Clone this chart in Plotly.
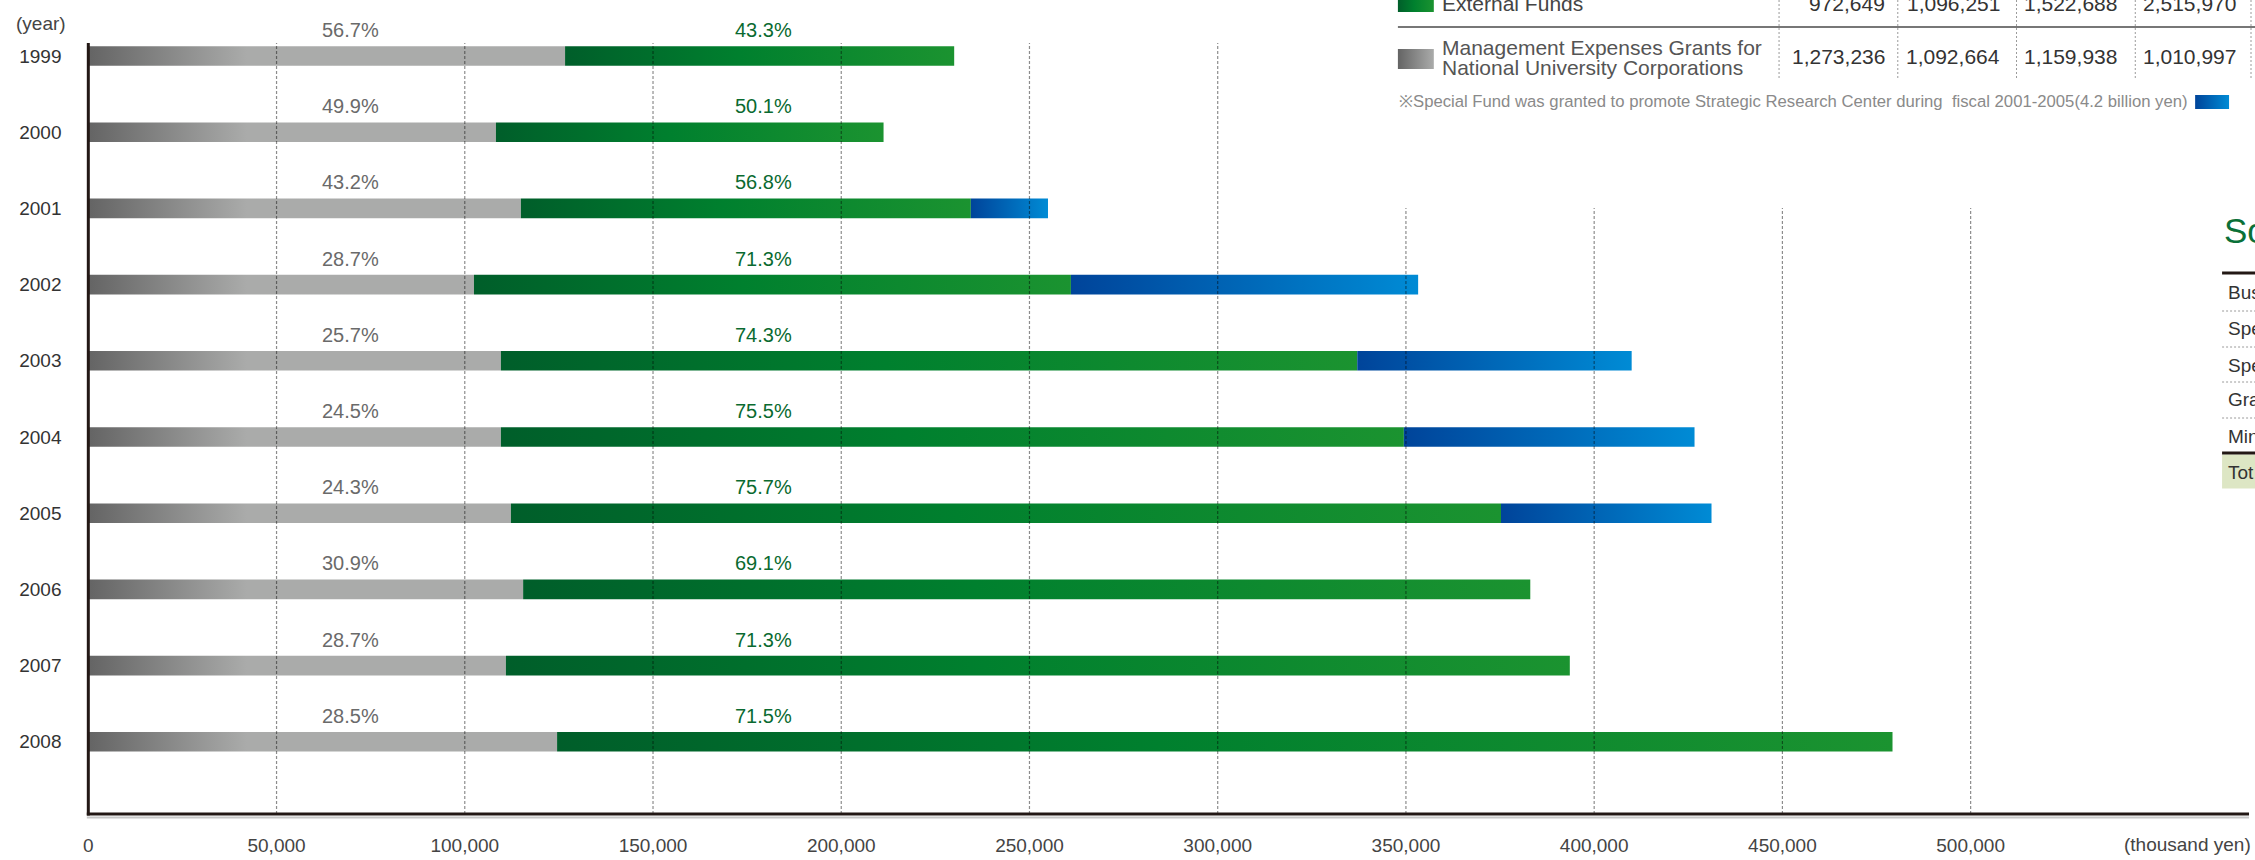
import plotly.graph_objects as go

W, H = 2255, 860
FONT = "Liberation Sans, Arial, sans-serif"

# ---------------- data (thousand yen) ----------------
years = ["1999", "2000", "2001", "2002", "2003", "2004", "2005", "2006", "2007", "2008"]
mgmt_grants = [126640, 108270, 114900, 102440, 109590, 109590, 112250, 115500, 110920, 124520]
external_funds = [103360, 102970, 119530, 158570, 227480, 239860, 263000, 267530, 282610, 354730]
special_fund = [0, 0, 20490, 92230, 72890, 77210, 55920, 0, 0, 0]
grant_pct = ["56.7%", "49.9%", "43.2%", "28.7%", "25.7%", "24.5%", "24.3%", "30.9%", "28.7%", "28.5%"]
external_pct = ["43.3%", "50.1%", "56.8%", "71.3%", "74.3%", "75.5%", "75.7%", "69.1%", "71.3%", "71.5%"]

x_ticks = [0, 50000, 100000, 150000, 200000, 250000, 300000, 350000, 400000, 450000, 500000]
x_tick_text = ["0", "50,000", "100,000", "150,000", "200,000", "250,000", "300,000",
               "350,000", "400,000", "450,000", "500,000"]

table_row1_label = "External Funds"
table_row1_values = ["972,649", "1,096,251", "1,522,688", "2,515,970"]
table_row2_label = ["Management Expenses Grants for", "National University Corporations"]
table_row2_values = ["1,273,236", "1,092,664", "1,159,938", "1,010,997"]
note_text = "※Special Fund was granted to promote Strategic Research Center during  fiscal 2001-2005(4.2 billion yen)"
side_title = "So"
side_rows = ["Bus", "Spe", "Spe", "Gra", "Min", "Tot"]

# ---------------- geometry helpers ----------------
X0_PX, X_RIGHT_PX, PX_PER_50K = 83.5, 2249.0, 188.65
AX_BOTTOM_PX, AX_TOP_PX = 814.0, 43.0
ROW0_PX, ROW_STEP_PX = 56.0, 76.2
BAR_HALF = 9.8 / ROW_STEP_PX


def pxx(x):
    return x / W


def pxy(y):
    return 1 - y / H


x_max = (X_RIGHT_PX - X0_PX) / PX_PER_50K * 50000
y_top_val = (AX_TOP_PX - ROW0_PX) / ROW_STEP_PX
y_bot_val = (AX_BOTTOM_PX - ROW0_PX) / ROW_STEP_PX

GREY_SCALE = [[0, "#646464"], [1, "#aaabaa"]]
GREEN_SCALE = [[0, "#005e2a"], [0.45, "#00802e"], [1, "#1b9330"]]
BLUE_SCALE = [[0, "#00449a"], [1, "#008bd5"]]

fig = go.Figure()


def add_rect(x0, x1, yc, scale, start=None, stop=None, xaxis="x", yaxis="y", half=BAR_HALF):
    grad = dict(type="horizontal", colorscale=scale)
    if start is not None:
        grad["start"] = start
        grad["stop"] = stop
    fig.add_trace(go.Scatter(
        x=[x0, x1, x1, x0, x0],
        y=[yc - half, yc - half, yc + half, yc + half, yc - half],
        mode="lines", line=dict(width=0), fill="toself", fillgradient=grad,
        hoverinfo="skip", showlegend=False, xaxis=xaxis, yaxis=yaxis))


for i, yr in enumerate(years):
    g = mgmt_grants[i]
    e = external_funds[i]
    s = special_fund[i]
    add_rect(0, g, i, GREY_SCALE, start=0, stop=42000)
    add_rect(g, g + e, i, GREEN_SCALE)
    if s > 0:
        add_rect(g + e, g + e + s, i, BLUE_SCALE)

# legend swatches in pixel-space overlay axes
add_rect(1396, 1432, 0.5, GREEN_SCALE, xaxis="x2", yaxis="y2", half=11.5)
add_rect(1396, 1432, 59, GREY_SCALE, xaxis="x2", yaxis="y2", half=10)
add_rect(2195, 2229, 102, BLUE_SCALE, xaxis="x2", yaxis="y2", half=7)

shapes = []
# grid lines
for v in x_ticks[1:]:
    top = AX_TOP_PX if v <= 300000 else 208
    shapes.append(dict(type="line", xref="x", yref="paper", x0=v, x1=v,
                       y0=pxy(AX_BOTTOM_PX), y1=pxy(top), layer="above",
                       line=dict(color="rgba(0,0,0,0.45)", width=1.2, dash="3px,2px")))
# axis lines
shapes.append(dict(type="line", xref="paper", yref="paper", x0=pxx(X0_PX - 1.5), x1=pxx(X_RIGHT_PX),
                   y0=pxy(817.5), y1=pxy(817.5), line=dict(color="#c8c8c8", width=2)))
shapes.append(dict(type="line", xref="paper", yref="paper", x0=pxx(X0_PX - 1.5), x1=pxx(X_RIGHT_PX),
                   y0=pxy(AX_BOTTOM_PX), y1=pxy(AX_BOTTOM_PX), line=dict(color="#231815", width=3)))
shapes.append(dict(type="line", xref="paper", yref="paper", x0=pxx(X0_PX), x1=pxx(X0_PX),
                   y0=pxy(AX_BOTTOM_PX + 1.5), y1=pxy(AX_TOP_PX), line=dict(color="#231815", width=3)))

# top-right table
shapes.append(dict(type="line", xref="paper", yref="paper", x0=pxx(1396), x1=pxx(2255),
                   y0=pxy(27), y1=pxy(27), line=dict(color="#777777", width=2)))
col_sep = [1778, 1897, 2016, 2135, 2251]
for cx in col_sep:
    shapes.append(dict(type="line", xref="paper", yref="paper", x0=pxx(cx), x1=pxx(cx),
                       y0=pxy(0), y1=pxy(78), line=dict(color="#9a9a9a", width=1, dash="2px,2px")))
col_right = [1886, 2001, 2119, 2238]

# right side table (cut off by the right edge)
SIDE_X = 2222
shapes.append(dict(type="rect", xref="paper", yref="paper", x0=pxx(SIDE_X), x1=pxx(2256),
                   y0=pxy(454.5), y1=pxy(488.5), fillcolor="#dde6c4", line=dict(width=0)))
for yy in [273, 453]:
    shapes.append(dict(type="line", xref="paper", yref="paper", x0=pxx(SIDE_X), x1=pxx(2256),
                       y0=pxy(yy), y1=pxy(yy), line=dict(color="#231815", width=3)))
for yy in [311, 347, 382, 418]:
    shapes.append(dict(type="line", xref="paper", yref="paper", x0=pxx(SIDE_X), x1=pxx(2256),
                       y0=pxy(yy), y1=pxy(yy), line=dict(color="#9a9a9a", width=1, dash="2px,2px")))

annotations = []


def pa(text, x, y, size, color, xanchor="center", yanchor="middle", align="left"):
    annotations.append(dict(text=text, x=pxx(x), y=pxy(y), xref="paper", yref="paper",
                            xanchor=xanchor, yanchor=yanchor, showarrow=False, align=align,
                            font=dict(family=FONT, size=size, color=color)))


# percent labels (positioned 26 px above each bar centre)
grey_label_px = 346
green_label_px = 760
for i in range(len(years)):
    ypx = ROW0_PX + i * ROW_STEP_PX - 26
    pa(grant_pct[i], grey_label_px, ypx, 20, "#6a6a6a")
    pa(external_pct[i], green_label_px, ypx, 20, "#0a6a30")

pa("(year)", 36, 23, 19, "#444444")
pa("(thousand yen)", 2253, 844, 19, "#444444", xanchor="right")

pa(table_row1_label, 1438, 4, 21, "#444444", xanchor="left")
for k, v in enumerate(table_row1_values):
    pa(v, col_right[k], 4, 21, "#333333", xanchor="right")
pa(table_row2_label[0], 1438, 47, 21, "#555555", xanchor="left")
pa(table_row2_label[1], 1438, 68, 21, "#555555", xanchor="left")
for k, v in enumerate(table_row2_values):
    pa(v, col_right[k], 56, 21, "#333333", xanchor="right")
pa(note_text, 1395, 101, 16.7, "#8a8a8a", xanchor="left")

pa(side_title, SIDE_X, 231, 35, "#0a7038", xanchor="left")
for yy, t in zip([292, 328, 365, 400, 437, 472], side_rows):
    pa(t, SIDE_X + 4, yy, 19, "#333333", xanchor="left")

fig.update_layout(
    width=W, height=H, margin=dict(l=0, r=0, t=0, b=0),
    paper_bgcolor="white", plot_bgcolor="rgba(0,0,0,0)",
    showlegend=False, shapes=shapes, annotations=annotations,
    font=dict(family=FONT, size=19, color="#444444"),
    xaxis=dict(domain=[pxx(X0_PX), pxx(X_RIGHT_PX)], range=[0, x_max], showgrid=False, zeroline=False,
               showline=False, tickvals=x_ticks, ticktext=x_tick_text, ticks="outside",
               ticklen=14, tickcolor="rgba(0,0,0,0)", tickfont=dict(family=FONT, size=19, color="#444444"),
               fixedrange=True),
    yaxis=dict(domain=[pxy(AX_BOTTOM_PX), pxy(AX_TOP_PX)], range=[y_bot_val, y_top_val], showgrid=False,
               zeroline=False, showline=False, tickvals=list(range(len(years))), ticktext=years,
               ticks="outside", ticklen=22, tickcolor="rgba(0,0,0,0)",
               tickfont=dict(family=FONT, size=19, color="#333333"), fixedrange=True),
    xaxis2=dict(domain=[0, 1], range=[0, W], visible=False, anchor="y2", fixedrange=True),
    yaxis2=dict(domain=[0, 1], range=[H, 0], visible=False, anchor="x2", fixedrange=True),
)

fig.write_html("out.html", config={"displayModeBar": False},
               post_script="document.body.style.margin='0';document.body.style.overflow='hidden';")
